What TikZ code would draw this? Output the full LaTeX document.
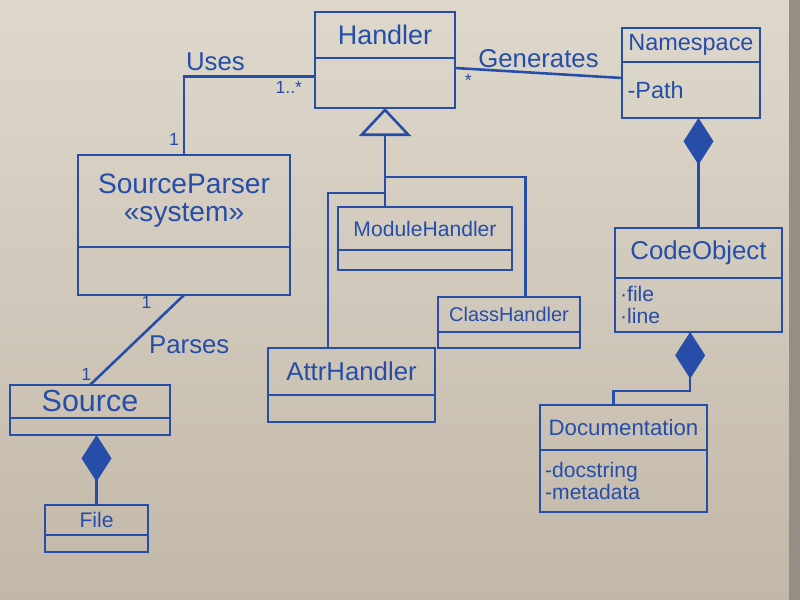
\documentclass[tikz,border=0pt]{standalone}
\usepackage{fontspec}
\setmainfont{Liberation Sans}
\usetikzlibrary{arrows.meta,positioning}
\definecolor{ink}{RGB}{38,78,168}
\definecolor{boardtop}{RGB}{222,216,204}
\definecolor{boardbot}{RGB}{194,184,168}
\definecolor{frame}{RGB}{150,142,130}
\newcommand{\inksize}[1]{\fontsize{#1}{#1}\selectfont}
\tikzstyle{classname} = [rectangle, draw=ink, line width=2.2pt, outer sep=0pt, inner sep=2pt, text=ink, anchor=north west]
\tikzstyle{classbody} = [rectangle, draw=ink, line width=2.2pt, outer sep=0pt, inner sep=4pt, text=ink, align=left, font=\inksize{18}]
\tikzstyle{link} = [draw=ink, line width=2.2pt]
\tikzstyle{inherit} = [link, -{Triangle[open, length=0.84cm, width=1.56cm]}]
\tikzstyle{compose} = [link, -{Diamond[length=1.4cm, width=0.9cm]}]
\tikzstyle{assoc} = [text=ink, font=\inksize{22}]
\tikzstyle{mult} = [text=ink, font=\inksize{15}]

\begin{document}
\begin{tikzpicture}[x=0.03cm, y=-0.03cm]
   \shade [top color=boardtop, bottom color=boardbot] (0,0) rectangle (800,600);
   \fill [frame] (789,0) rectangle (800,600);
   % classes
   \node (handler) [classname, minimum width=4.2cm, minimum height=1.38cm, font=\inksize{23}] at (315,12) {Handler};
   \node (handlerbody) [classbody, below=0pt of handler, minimum width=4.2cm, minimum height=1.5cm] {};
   \node (ns) [classname, minimum width=4.14cm, minimum height=1.02cm, font=\inksize{20}] at (622,28) {Namespace};
   \node (nsbody) [classbody, below=0pt of ns, minimum width=4.14cm, minimum height=1.68cm, text width=3.8cm, font=\inksize{20}] {-Path};
   \node (srcp) [classname, minimum width=6.36cm, minimum height=2.76cm, align=center, font=\inksize{24}] at (78,155) {SourceParser\\«system»};
   \node (srcpbody) [classbody, below=0pt of srcp, minimum width=6.36cm, minimum height=1.44cm] {};
   \node (modh) [classname, minimum width=5.22cm, minimum height=1.29cm, font=\inksize{18}] at (338,207) {ModuleHandler};
   \node (modhbody) [classbody, below=0pt of modh, minimum width=5.22cm, minimum height=0.6cm] {};
   \node (classh) [classname, minimum width=4.26cm, minimum height=1.05cm, font=\inksize{17}] at (438,297) {ClassHandler};
   \node (classhbody) [classbody, below=0pt of classh, minimum width=4.26cm, minimum height=0.48cm] {};
   \node (attrh) [classname, minimum width=5.01cm, minimum height=1.41cm, font=\inksize{22}] at (268,348) {AttrHandler};
   \node (attrhbody) [classbody, below=0pt of attrh, minimum width=5.01cm, minimum height=0.81cm] {};
   \node (codeo) [classname, minimum width=5.01cm, minimum height=1.5cm, font=\inksize{22}] at (615,228) {CodeObject};
   \node (codeobody) [classbody, below=0pt of codeo, minimum width=5.01cm, minimum height=1.62cm, text width=4.7cm] {·file\\·line};
   \node (doc) [classname, minimum width=5.01cm, minimum height=1.35cm, font=\inksize{19}] at (540,405) {Documentation};
   \node (docbody) [classbody, below=0pt of doc, minimum width=5.01cm, minimum height=1.86cm, text width=4.7cm] {-docstring\\-metadata};
   \node (src) [classname, minimum width=4.8cm, minimum height=0.99cm, font=\inksize{26}] at (10,385) {Source};
   \node (srcbody) [classbody, below=0pt of src, minimum width=4.8cm, minimum height=0.51cm] {};
   \node (file) [classname, minimum width=3.09cm, minimum height=0.9cm, font=\inksize{18}] at (45,505) {File};
   \node (filebody) [classbody, below=0pt of file, minimum width=3.09cm, minimum height=0.51cm] {};
   % generalization
   \coordinate (forkR) at (385,177);
   \coordinate (forkL) at (385,193);
   \draw [inherit] (handlerbody.south |- modh.north) -- (handlerbody.south);
   \draw [link] (forkR) -| ([xshift=0.5cm]classh.north);
   \draw [link] (forkL) -| ([xshift=-0.7cm]attrh.north);
   % associations
   \draw [link] (srcp.north) |- ([yshift=0.2cm]handlerbody.west)
      node[assoc, pos=0.62, above] {Uses}
      node[mult, pos=0.1, left] {1}
      node[mult, pos=0.9, below] {1..*};
   \draw [link] ([yshift=0.45cm]handlerbody.east) -- ([yshift=0.36cm]nsbody.west)
      node[assoc, midway, above] {Generates}
      node[mult, pos=0.08, below] {*};
   \draw [link] (srcpbody.south) -- (src.north)
      node[assoc, pos=0.55, right=0.35cm] {Parses}
      node[mult, pos=0.08, left=0.6cm] {1}
      node[mult, pos=0.88, left=0.15cm] {1};
   % composition
   \draw [compose] (codeo.north) -- (nsbody.south -| codeo.north);
   \draw [compose] ([xshift=-0.3cm]doc.north) -- ++(0,-14) -| ([xshift=-0.25cm]codeobody.south);
   \draw [compose] (file.north) -- (srcbody.south -| file.north);
\end{tikzpicture}
\end{document}
